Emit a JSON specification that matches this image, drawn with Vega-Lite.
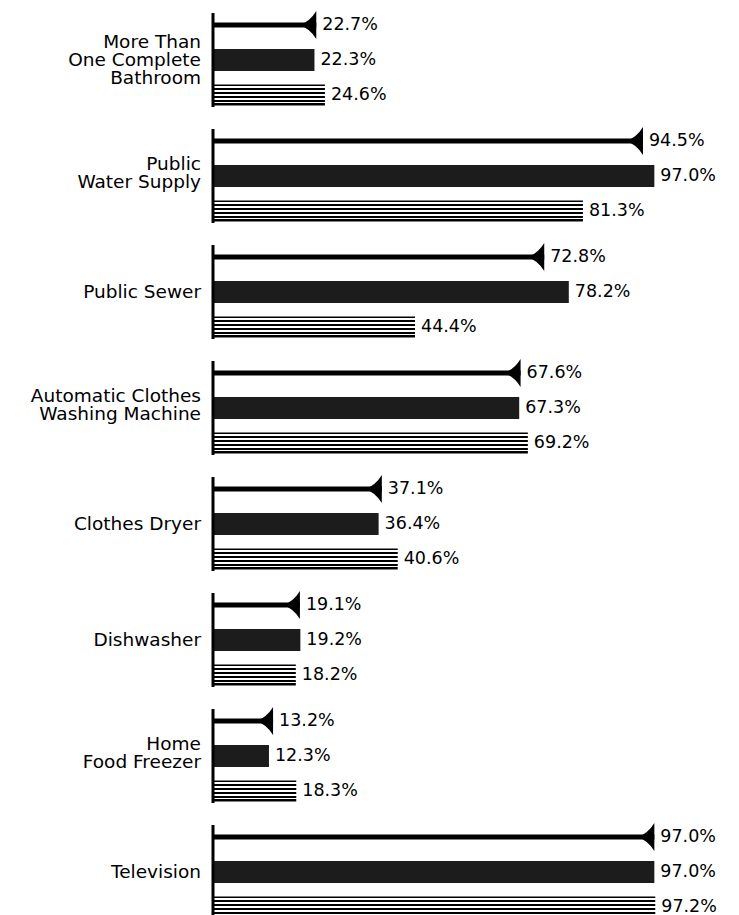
{
  "$schema": "https://vega.github.io/schema/vega-lite/v6.json",
  "padding": {"top": 11, "left": 30, "right": 0, "bottom": 0},
  "background": "white",
  "bounds": "flush",
  "data": {
    "values": [
      {"category": "More Than|One Complete|Bathroom", "series": "a", "value": 22.7},
      {"category": "More Than|One Complete|Bathroom", "series": "b", "value": 22.3},
      {"category": "More Than|One Complete|Bathroom", "series": "c", "value": 24.6},
      {"category": "Public|Water Supply", "series": "a", "value": 94.5},
      {"category": "Public|Water Supply", "series": "b", "value": 97.0},
      {"category": "Public|Water Supply", "series": "c", "value": 81.3},
      {"category": "Public Sewer", "series": "a", "value": 72.8},
      {"category": "Public Sewer", "series": "b", "value": 78.2},
      {"category": "Public Sewer", "series": "c", "value": 44.4},
      {"category": "Automatic Clothes|Washing Machine", "series": "a", "value": 67.6},
      {"category": "Automatic Clothes|Washing Machine", "series": "b", "value": 67.3},
      {"category": "Automatic Clothes|Washing Machine", "series": "c", "value": 69.2},
      {"category": "Clothes Dryer", "series": "a", "value": 37.1},
      {"category": "Clothes Dryer", "series": "b", "value": 36.4},
      {"category": "Clothes Dryer", "series": "c", "value": 40.6},
      {"category": "Dishwasher", "series": "a", "value": 19.1},
      {"category": "Dishwasher", "series": "b", "value": 19.2},
      {"category": "Dishwasher", "series": "c", "value": 18.2},
      {"category": "Home|Food Freezer", "series": "a", "value": 13.2},
      {"category": "Home|Food Freezer", "series": "b", "value": 12.3},
      {"category": "Home|Food Freezer", "series": "c", "value": 18.3},
      {"category": "Television", "series": "a", "value": 97.0},
      {"category": "Television", "series": "b", "value": 97.0},
      {"category": "Television", "series": "c", "value": 97.2}
    ]
  },
  "transform": [
    {"calculate": "format(datum.value, '.1f') + '%'", "as": "label"},
    {"calculate": "split(datum.category, '|')", "as": "catLines"},
    {"calculate": "length(datum.catLines)", "as": "nLines"}
  ],
  "facet": {
    "row": {
      "field": "category",
      "type": "nominal",
      "sort": [
        "More Than|One Complete|Bathroom",
        "Public|Water Supply",
        "Public Sewer",
        "Automatic Clothes|Washing Machine",
        "Clothes Dryer",
        "Dishwasher",
        "Home|Food Freezer",
        "Television"
      ],
      "title": null,
      "header": {"labels": false}
    }
  },
  "spacing": 22,
  "spec": {
    "width": 455,
    "height": 94,
    "encoding": {
      "x": {
        "field": "value",
        "type": "quantitative",
        "scale": {"domain": [0, 100]},
        "axis": null
      }
    },
    "layer": [
      {
        "transform": [{"filter": "datum.series == 'a'"}],
        "mark": {"type": "bar", "height": 5, "color": "black"},
        "encoding": {
          "y": {"field": "series", "type": "nominal", "scale": {"type": "point", "padding": 0.343, "domain": ["a", "b", "c"]}, "axis": null}
        }
      },
      {
        "transform": [{"filter": "datum.series == 'a'"}],
        "mark": {
          "type": "point",
          "shape": "M0,-1 L0,1 Q-0.45,0.25 -1.2,0 Q-0.45,-0.25 0,-1 Z",
          "size": 784,
          "filled": true,
          "color": "black",
          "opacity": 1,
          "strokeWidth": 0
        },
        "encoding": {
          "y": {"field": "series", "type": "nominal", "axis": null}
        }
      },
      {
        "transform": [{"filter": "datum.series == 'b'"}],
        "mark": {"type": "bar", "height": 22, "color": "#1c1c1c"},
        "encoding": {
          "y": {"field": "series", "type": "nominal", "axis": null}
        }
      },
      {
        "transform": [{"filter": "datum.series == 'c'"}],
        "mark": {
          "type": "bar",
          "height": 21,
          "fill": {
            "gradient": "linear",
            "x1": 0, "y1": 0, "x2": 0, "y2": 1,
            "stops": [
              {"offset": 0, "color": "black"},
              {"offset": 0.09, "color": "black"},
              {"offset": 0.09, "color": "white"},
              {"offset": 0.18, "color": "white"},
              {"offset": 0.18, "color": "black"},
              {"offset": 0.27, "color": "black"},
              {"offset": 0.27, "color": "white"},
              {"offset": 0.36, "color": "white"},
              {"offset": 0.36, "color": "black"},
              {"offset": 0.45, "color": "black"},
              {"offset": 0.45, "color": "white"},
              {"offset": 0.54, "color": "white"},
              {"offset": 0.54, "color": "black"},
              {"offset": 0.63, "color": "black"},
              {"offset": 0.63, "color": "white"},
              {"offset": 0.72, "color": "white"},
              {"offset": 0.72, "color": "black"},
              {"offset": 0.81, "color": "black"},
              {"offset": 0.81, "color": "white"},
              {"offset": 0.9, "color": "white"},
              {"offset": 0.9, "color": "black"},
              {"offset": 1, "color": "black"}
            ]
          }
        },
        "encoding": {
          "y": {"field": "series", "type": "nominal", "axis": null}
        }
      },
      {
        "mark": {
          "type": "text",
          "align": "left",
          "baseline": "middle",
          "dx": 6,
          "font": "DejaVu Sans",
          "fontSize": 17.5,
          "color": "black"
        },
        "encoding": {
          "y": {"field": "series", "type": "nominal", "axis": null},
          "text": {"field": "label", "type": "nominal"}
        }
      },
      {
        "transform": [{"filter": "datum.series == 'b' && datum.nLines == 1"}],
        "mark": {
          "type": "text",
          "align": "right",
          "baseline": "middle",
          "dx": -12,
          "font": "DejaVu Sans",
          "fontSize": 18.5,
          "lineHeight": 18,
          "color": "black"
        },
        "encoding": {
          "x": {"datum": 0, "type": "quantitative"},
          "y": {"field": "series", "type": "nominal", "axis": null},
          "text": {"field": "catLines", "type": "nominal"}
        }
      },
      {
        "transform": [{"filter": "datum.series == 'b' && datum.nLines == 2"}],
        "mark": {
          "type": "text",
          "align": "right",
          "baseline": "middle",
          "dx": -12,
          "dy": -12,
          "font": "DejaVu Sans",
          "fontSize": 18.5,
          "lineHeight": 18,
          "color": "black"
        },
        "encoding": {
          "x": {"datum": 0, "type": "quantitative"},
          "y": {"field": "series", "type": "nominal", "axis": null},
          "text": {"field": "catLines", "type": "nominal"}
        }
      },
      {
        "transform": [{"filter": "datum.series == 'b' && datum.nLines == 3"}],
        "mark": {
          "type": "text",
          "align": "right",
          "baseline": "middle",
          "dx": -12,
          "dy": -18,
          "font": "DejaVu Sans",
          "fontSize": 18.5,
          "lineHeight": 18,
          "color": "black"
        },
        "encoding": {
          "x": {"datum": 0, "type": "quantitative"},
          "y": {"field": "series", "type": "nominal", "axis": null},
          "text": {"field": "catLines", "type": "nominal"}
        }
      },
      {
        "transform": [{"filter": "datum.series == 'b'"}],
        "mark": {"type": "rule", "color": "black", "strokeWidth": 3, "strokeCap": "butt"},
        "encoding": {
          "x": {"datum": 0, "type": "quantitative"}
        }
      }
    ]
  },
  "config": {
    "view": {"stroke": null}
  }
}
